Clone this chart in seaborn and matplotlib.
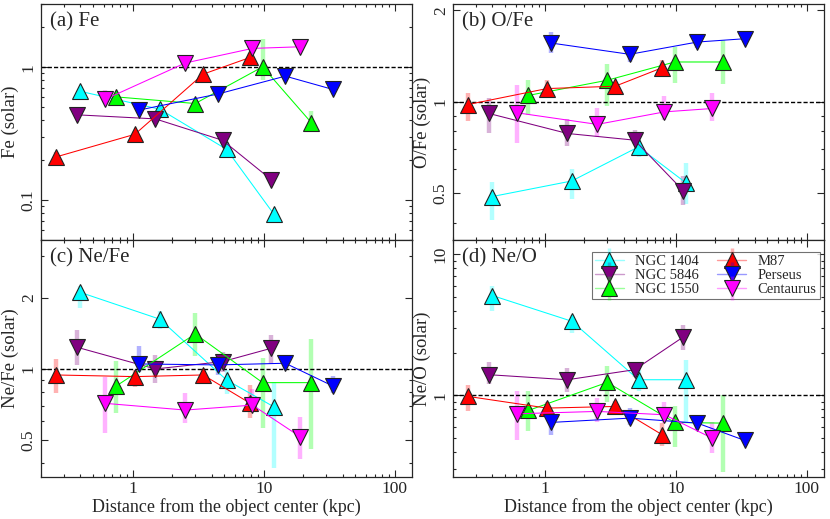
import numpy as np
import pandas as pd
import matplotlib
matplotlib.use('Agg')
import matplotlib.pyplot as plt
from matplotlib.lines import Line2D
from matplotlib.ticker import LogLocator, NullFormatter
import seaborn as sns

# ── DATA ──────────────────────────────────────────────────────
objects = ['NGC 1404', 'NGC 5846', 'NGC 1550', 'M87', 'Perseus', 'Centaurus']
colors = ['#00FFFF', '#800080', '#00FF00', '#FF0000', '#0000FF', '#FF00FF']
marks = ['^', 'v', '^', '^', 'v', 'v']

# radius of each annulus (kpc), one list per object
radius = [[0.40, 1.61, 5.2, 11.9],
          [0.375, 1.49, 4.85, 11.4],
          [0.75, 3.0, 9.8, 23.0],
          [0.26, 1.04, 3.45, 7.9],
          [1.11, 4.45, 14.6, 33.6],
          [0.62, 2.52, 8.2, 19.0]]

fe = [[0.66, 0.485, 0.242, 0.079],
      [0.44, 0.41, 0.283, 0.143],
      [0.60, 0.535, 1.01, 0.385],
      [0.212, 0.314, 0.89, 1.19],
      [0.477, 0.63, 0.86, 0.683],
      [0.577, 1.08, 1.39, 1.43]]
fe_lo = [[0.60, 0.45, 0.225, 0.074],
         [0.41, 0.39, 0.27, 0.135],
         [0.56, 0.50, 0.81, 0.347],
         [0.18, 0.295, 0.84, 1.10],
         [0.46, 0.61, 0.84, 0.66],
         [0.54, 1.04, 1.33, 1.38]]
fe_hi = [[0.70, 0.52, 0.26, 0.085],
         [0.47, 0.43, 0.30, 0.15],
         [0.64, 0.57, 1.65, 0.47],
         [0.23, 0.335, 0.94, 1.28],
         [0.50, 0.65, 0.88, 0.70],
         [0.68, 1.12, 1.45, 1.48]]

ofe = [[0.488, 0.549, 0.711, 0.542],
       [0.916, 0.787, 0.748, 0.51],
       [1.05, 1.178, 1.353, 1.353],
       [0.98, 1.106, 1.126, 1.296],
       [1.563, 1.434, 1.574, 1.614],
       [0.920, 0.843, 0.927, 0.951]]
ofe_lo = [[0.409, 0.478, 0.66, 0.461],
          [0.791, 0.715, 0.725, 0.458],
          [0.904, 0.968, 1.154, 1.143],
          [0.866, 1.044, 1.08, 1.21],
          [1.449, 1.353, 1.51, 1.56],
          [0.733, 0.764, 0.871, 0.866]]
ofe_hi = [[0.546, 0.60, 0.748, 0.627],
          [1.03, 0.88, 0.81, 0.57],
          [1.178, 1.33, 1.515, 1.60],
          [1.07, 1.178, 1.16, 1.37],
          [1.70, 1.52, 1.63, 1.66],
          [1.14, 0.958, 1.044, 1.07]]

nefe = [[2.107, 1.624, 0.898, 0.692],
        [1.236, 1.0, 1.074, 1.223],
        [0.847, 1.407, 0.875, 0.875],
        [0.943, 0.928, 0.943, 0.715],
        [1.05, 1.04, 1.057, 0.847],
        [0.715, 0.67, 0.703, 0.516]]
nefe_lo = [[1.81, 1.47, 0.78, 0.38],
           [1.04, 0.875, 0.974, 1.05],
           [0.653, 1.135, 0.56, 0.457],
           [0.794, 0.836, 0.869, 0.618],
           [0.974, 0.94, 0.99, 0.79],
           [0.537, 0.592, 0.66, 0.414]]
nefe_hi = [[2.25, 1.75, 0.99, 0.884],
           [1.463, 1.146, 1.18, 1.39],
           [1.081, 1.72, 1.11, 1.335],
           [1.099, 0.99, 0.99, 0.855],
           [1.25, 1.11, 1.13, 0.934],
           [0.928, 0.789, 0.82, 0.628]]

neo = [[5.11, 3.36, 1.292, 1.292],
       [1.403, 1.292, 1.522, 2.598],
       [0.782, 1.237, 0.643, 0.636],
       [0.984, 0.813, 0.835, 0.525],
       [0.643, 0.69, 0.636, 0.479],
       [0.741, 0.77, 0.729, 0.497]]
neo_lo = [[3.95, 2.77, 1.07, 0.653],
          [1.21, 1.05, 1.36, 2.09],
          [0.555, 0.892, 0.429, 0.288],
          [0.77, 0.757, 0.757, 0.438],
          [0.525, 0.618, 0.57, 0.46],
          [0.484, 0.643, 0.636, 0.389]]
neo_hi = [[5.95, 3.74, 1.52, 1.79],
          [1.72, 1.56, 1.72, 3.18],
          [1.07, 1.625, 0.845, 1.01],
          [1.19, 0.892, 0.906, 0.636],
          [0.729, 0.813, 0.69, 0.50],
          [1.07, 0.957, 0.892, 0.653]]

panels = [('(a) Fe', 'Fe (solar)', fe, fe_lo, fe_hi, (0.05, 3.0), [0.1, 1], ['0.1', '1']),
          ('(b) O/Fe', 'O/Fe (solar)', ofe, ofe_lo, ofe_hi, (0.35, 2.1), [0.5, 1, 2], ['0.5', '1', '2']),
          ('(c) Ne/Fe', 'Ne/Fe (solar)', nefe, nefe_lo, nefe_hi, (0.35, 3.5), [0.5, 1, 2], ['0.5', '1', '2']),
          ('(d) Ne/O', 'Ne/O (solar)', neo, neo_lo, neo_hi, (0.265, 12.6), [1, 10], ['1', '10'])]

palette = dict(zip(objects, colors))
markers = dict(zip(objects, marks))

# ── STYLE ─────────────────────────────────────────────────────
sns.set_style('ticks')
plt.rcParams['font.family'] = ['Liberation Serif', 'DejaVu Serif']
plt.rcParams['axes.linewidth'] = 0.9

fig, axes = plt.subplots(2, 2, figsize=(8.3, 5.19), dpi=100, sharex=True)
fig.subplots_adjust(left=0.0494, right=0.9928, top=0.9923, bottom=0.0815,
                    hspace=0, wspace=0.1105)

for ax, (title, ylab, val, lo, hi, ylim, yt, ytl) in zip(axes.flat, panels):
    rows = []
    for i, obj in enumerate(objects):
        for r, v, l, h in zip(radius[i], val[i], lo[i], hi[i]):
            rows.append({'obj': obj, 'r': r, 'val': v, 'lo': l, 'hi': h})
    df = pd.DataFrame(rows)

    ax.set_xscale('log')
    ax.set_yscale('log')
    # error bars (light, thick)
    for obj in objects:
        d = df[df['obj'] == obj]
        ax.vlines(d['r'], d['lo'], d['hi'], color=palette[obj], alpha=0.3,
                  lw=3.2, zorder=1)
    ax.axhline(1, color='k', ls=(0, (3, 1.5)), lw=1.0, zorder=2)

    sns.lineplot(data=df, x='r', y='val', hue='obj', style='obj',
                 hue_order=objects, style_order=objects, palette=palette,
                 markers=markers, dashes=False, estimator=None, errorbar=None,
                 sort=False, legend=False, ax=ax, lw=0.75, markersize=12,
                 markeredgecolor='#222222', markeredgewidth=0.8, zorder=3)

    ax.set_xlim(0.2, 135)
    ax.set_ylim(*ylim)
    ax.set_yticks(yt)
    ax.set_yticklabels(ytl, rotation=90, va='center', fontsize=12.5)
    ax.yaxis.set_minor_locator(LogLocator(base=10, subs=np.arange(2, 10)))
    ax.yaxis.set_minor_formatter(NullFormatter())
    ax.set_xticks([1, 10, 100])
    ax.set_xticklabels(['1', '10', '100'], fontsize=12.5)
    ax.xaxis.set_minor_locator(LogLocator(base=10, subs=np.arange(2, 10)))
    ax.xaxis.set_minor_formatter(NullFormatter())
    ax.tick_params(which='both', direction='in', top=True, right=True, width=0.8)
    ax.tick_params(which='major', length=5, pad=3)
    ax.tick_params(which='minor', length=2.5)
    ax.set_ylabel(ylab, fontsize=13.5, labelpad=1)
    ax.set_xlabel('')
    ax.text(0.025, 0.965, title, transform=ax.transAxes, ha='left', va='top',
            fontsize=15)

for ax in axes[1]:
    ax.set_xlabel('Distance from the object center (kpc)', fontsize=13, labelpad=1)

# legend handles: pale line + pale error bar + marker
handles = []
for o in objects:
    pale_line = Line2D([], [], color=palette[o], lw=1.0, alpha=0.4)
    pale_bar = Line2D([], [], color=palette[o], marker='|', ls='none',
                      markersize=17, markeredgewidth=2.5, alpha=0.3)
    mk = Line2D([], [], color=palette[o], marker=markers[o], ls='none',
                markersize=12, markeredgecolor='#222222', markeredgewidth=0.8)
    handles.append((pale_line, pale_bar, mk))
leg = axes[1, 1].legend(handles, objects, ncol=2, loc='upper right',
                        bbox_to_anchor=(0.988, 0.95), borderaxespad=0,
                        fontsize=10.5, frameon=True, fancybox=False,
                        edgecolor='0.3', handlelength=2.0, labelspacing=0.05,
                        columnspacing=1.2, borderpad=0.2, handletextpad=0.8)
leg.get_frame().set_linewidth(0.8)

plt.savefig('out.png', dpi=100)
